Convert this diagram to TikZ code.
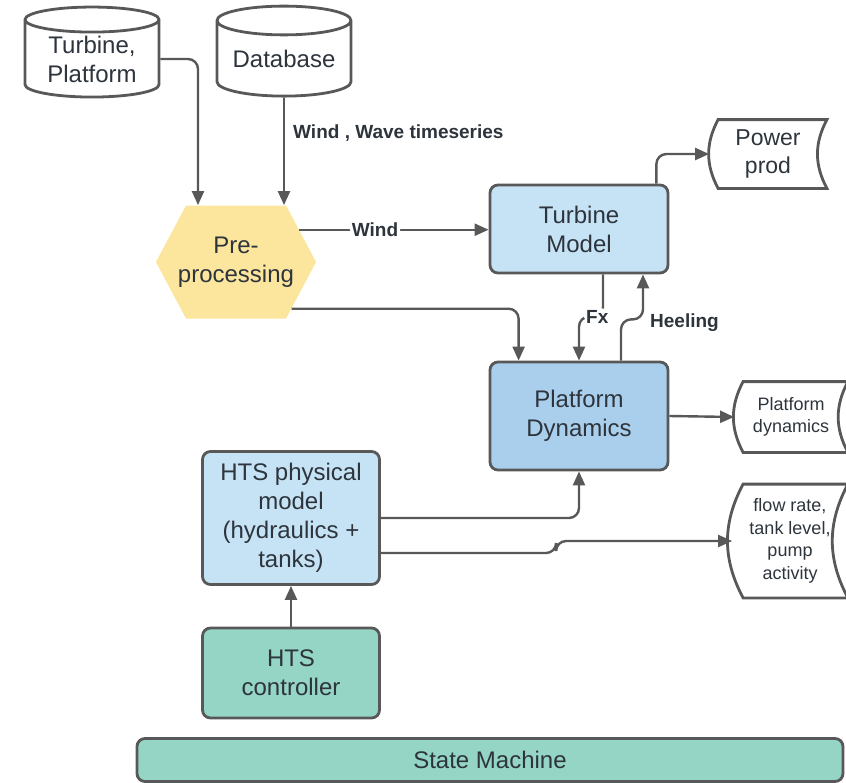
\documentclass[tikz,border=0pt]{standalone}
\usepackage{fontspec}
\setmainfont{Liberation Sans}
\usetikzlibrary{calc,arrows.meta,shapes.geometric,shapes.symbols}
\definecolor{LineGray}{RGB}{88,88,88}
\definecolor{TextGray}{RGB}{45,52,60}
\definecolor{ModelBlue}{RGB}{198,227,246}
\definecolor{DynBlue}{RGB}{170,207,237}
\definecolor{CtrlTeal}{RGB}{148,213,197}
\definecolor{PreYellow}{RGB}{252,230,158}

\begin{document}
\begin{tikzpicture}[x=0.5pt,y=-0.5pt,
  every node/.style={text=TextGray, align=center},
  conn/.style={draw=LineGray, line width=1.2pt, rounded corners=5pt, -{Triangle[length=7pt,width=6pt]}},
  lab/.style={font=\bfseries\fontsize{9.5}{10}\selectfont, inner sep=1pt},
  box/.style={draw=LineGray, line width=1.4pt, rounded corners=4pt, inner sep=0pt, font=\fontsize{12}{14.5}\selectfont},
  datadb/.style={cylinder, shape border rotate=90, aspect=0.28, draw=LineGray, fill=white, line width=1.4pt,
    minimum width=67pt, minimum height=45pt, inner sep=0pt, font=\fontsize{12}{14.5}\selectfont},
  hexa/.style={signal, signal to=east and west, signal pointer angle=124, fill=PreYellow,
    minimum height=56.5pt, inner ysep=0pt, inner xsep=-4pt, font=\fontsize{12}{14.5}\selectfont},
  store/.style={inner sep=0pt, font=\fontsize{9}{11.3}\selectfont}]
  \useasboundingbox (0,0) rectangle (846,782);

  \node[datadb] (tp) at (92,59) {Turbine,\\Platform};
  \node[datadb] (base) at (284,59) {Database};
  \node[hexa] (pre) at (236,262) {Pre-\\processing};
  \node[box, fill=ModelBlue, minimum width=89pt, minimum height=44pt] (tm) at (579,229) {Turbine\\Model};
  \node[box, fill=DynBlue, minimum width=89pt, minimum height=54pt] (pd) at (579,416) {Platform\\Dynamics};
  \node[box, fill=ModelBlue, minimum width=88.5pt, minimum height=66.5pt] (hts) at (291,518) {HTS physical\\model\\(hydraulics +\\tanks)};
  \node[box, fill=CtrlTeal, minimum width=88.5pt, minimum height=45pt] (ctrl) at (291,673) {HTS\\controller};
  \node[box, fill=CtrlTeal, minimum width=353pt, minimum height=21.5pt] (sm) at (490,760) {State Machine};
  \node[store, minimum width=58.5pt, minimum height=34pt, font=\fontsize{11.5}{14}\selectfont] (pw) at (768,154) {Power\\prod};
  \node[store, minimum width=56.5pt, minimum height=35pt] (pdyn) at (791,417) {Platform\\dynamics};
  \node[store, minimum width=57.5pt, minimum height=56.5pt] (flow) at (790,541) {flow rate,\\tank level,\\pump\\activity};

  \foreach \n/\b in {pw/9, pdyn/9, flow/11} {
    \draw[draw=LineGray, line width=1.4pt] ($(\n.north west)+(\b,0)$) -- (\n.north east)
      to[bend right=28] (\n.south east) -- ($(\n.south west)+(\b,0)$)
      to[bend left=28] cycle;
  }

  \draw[conn] (tp.east) -| ($(pre.north)+(-38,0)$);
  \draw[conn] (base.south) -- node[lab, pos=0.33, right=3pt] {Wind , Wave timeseries} (base.south |- pre.north);
  \draw[conn] (pre.27) -- node[lab, fill=white, pos=0.4] {Wind} (pre.27 -| tm.west);
  \draw[conn] (pre.-40) -| ($(pd.north west)+(30,0)$);
  \draw[conn] ($(tm.north east)+(-13,0)$) |- (pw.west);
  \draw[conn] ($(tm.south)+(24,0)$) |- node[lab, fill=white, pos=0.62] {Fx} ($(pd.north)+(0,-44)$) -- (pd.north);
  \draw[conn] ($(pd.north)+(42,0)$) |- ($(tm.south)+(64,45)$) node[lab, anchor=west, xshift=2pt, yshift=-1.5pt] {Heeling} -- ($(tm.south)+(64,0)$);
  \draw[conn] (pd.east) -- (pdyn.west);
  \draw[conn] (hts.east) -| (pd.south);
  \draw[conn] ($(hts.east)+(0,35)$) -| ($(flow.west)+(-176,0)$) -- (flow.west);
  \draw[conn] (ctrl.north) -- (hts.south);
\end{tikzpicture}
\end{document}
